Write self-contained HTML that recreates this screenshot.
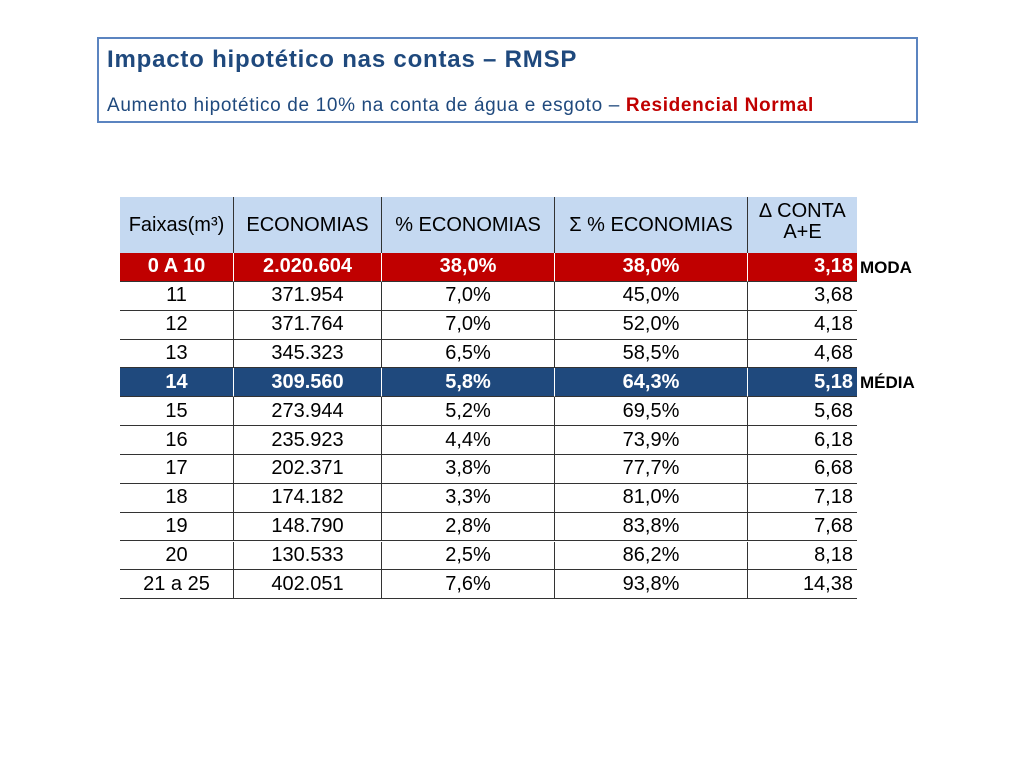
<!DOCTYPE html>
<html><head><meta charset="utf-8">
<style>
body{margin:0;width:1024px;height:768px;background:#fff;position:relative;overflow:hidden;font-family:"Liberation Sans",Arial,sans-serif}
#box{position:absolute;left:97px;top:37px;width:817px;height:82px;border:2px solid #5b84c0}
#t1{position:absolute;left:8px;top:7px;font-size:24px;font-weight:bold;color:#1f497d;white-space:nowrap;letter-spacing:0.8px}
#t2{position:absolute;left:8px;top:56px;font-size:19px;color:#1f497d;white-space:nowrap;letter-spacing:0.65px}
#t2 b{color:#c00000}
.c{position:absolute;box-sizing:border-box;display:flex;align-items:center;justify-content:center;font-size:20px;color:#000;line-height:1.05;text-align:center}
.side{position:absolute;font-size:17px;font-weight:bold;color:#000}
</style></head><body>
<div id="box">
<div id="t1">Impacto hipotético nas contas – RMSP</div>
<div id="t2">Aumento hipotético de 10% na conta de água e esgoto – <b>Residencial Normal</b></div>
</div>
<div id="tbl"></div>
<script>
const headers=["Faixas(m³)","ECONOMIAS","% ECONOMIAS","Σ % ECONOMIAS","∆ CONTA<br>A+E"];
const faixas=["0 A 10","11","12","13","14","15","16","17","18","19","20","21 a 25"];
const economias=["2.020.604","371.954","371.764","345.323","309.560","273.944","235.923","202.371","174.182","148.790","130.533","402.051"];
const pctEcon=["38,0%","7,0%","7,0%","6,5%","5,8%","5,2%","4,4%","3,8%","3,3%","2,8%","2,5%","7,6%"];
const cumPct=["38,0%","45,0%","52,0%","58,5%","64,3%","69,5%","73,9%","77,7%","81,0%","83,8%","86,2%","93,8%"];
const deltaConta=["3,18","3,68","4,18","4,68","5,18","5,68","6,18","6,68","7,18","7,68","8,18","14,38"];
const cols=[120,233,381,554,747,857];
const top0=197,hH=56,rH=28.85;
const tbl=document.getElementById('tbl');
function cell(x,y,w,h,html,st){const d=document.createElement('div');d.className='c';
d.style.cssText+=`left:${x}px;top:${y}px;width:${w}px;height:${h}px;`+st;d.innerHTML=html;tbl.appendChild(d);return d;}
headers.forEach((h,i)=>{const d=cell(cols[i],top0,cols[i+1]-cols[i],hH,h,`background:#c5d9f1;border-left:${i?1.5:0}px solid #333;`+(i==4?'align-items:flex-start;padding-top:4px;':''));

});
const data=[faixas,economias,pctEcon,cumPct,deltaConta];
faixas.forEach((f,r)=>{
 const y=top0+hH+r*rH;
 const bg=r==0?'#c00000':(r==4?'#1f497d':'#fff');
 const hl=r==0||r==4;
 for(let c=0;c<5;c++){
  const st=`background:${bg};border-bottom:1.5px solid #333;`+(c?`border-left:1.5px solid ${hl?'#fff':'#333'};`:'')+(hl?'color:#fff;font-weight:bold;':'')+(c==4?'justify-content:flex-end;padding-right:4px;':'');
  const d=cell(cols[c],y,cols[c+1]-cols[c],rH,data[c][r],st);
  
  
 }
});
[["MODA",0],["MÉDIA",4]].forEach(([t,r])=>{const s=document.createElement('div');s.className='side';
s.style.left='860px';s.style.top=(top0+hH+r*rH+5)+'px';s.textContent=t;


tbl.appendChild(s);});
</script>
</body></html>
